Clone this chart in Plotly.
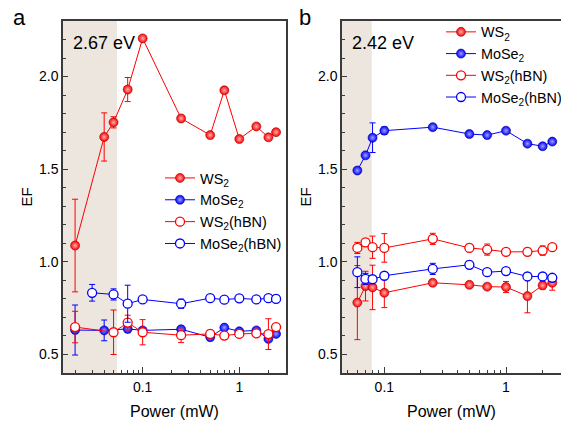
import plotly.graph_objects as go

# ---------------- data ----------------
# Panel a (2.67 eV)
x_ws2_a = [0.02, 0.04, 0.05, 0.07, 0.1, 0.25, 0.5, 0.7, 1.0, 1.5, 2.0, 2.4]
ws2_a = [1.088, 1.674, 1.753, 1.93, 2.206, 1.774, 1.684, 1.926, 1.663, 1.731, 1.672, 1.70]
ws2_a_err = [0.25, 0.13, 0.03, 0.065, 0.0, 0.0, 0.0, 0.0, 0.0, 0.0, 0.0, 0.0]

x_mose2_a = [0.02, 0.04, 0.07, 0.1, 0.25, 0.5, 0.7, 1.0, 1.5, 2.0, 2.4]
mose2_a = [0.632, 0.63, 0.638, 0.63, 0.636, 0.593, 0.645, 0.625, 0.63, 0.584, 0.611]
mose2_a_err = [0.135, 0.056, 0.02, 0.01, 0.01, 0.015, 0.01, 0.01, 0.01, 0.015, 0.01]

x_ws2h_a = [0.02, 0.05, 0.07, 0.1, 0.25, 0.5, 0.7, 1.0, 1.5, 2.0, 2.4]
ws2h_a = [0.648, 0.62, 0.672, 0.62, 0.604, 0.611, 0.602, 0.611, 0.614, 0.61, 0.648]
ws2h_a_err = [0.085, 0.12, 0.04, 0.068, 0.04, 0.02, 0.01, 0.01, 0.01, 0.083, 0.01]

x_mose2h_a = [0.03, 0.05, 0.07, 0.1, 0.25, 0.5, 0.7, 1.0, 1.5, 2.0, 2.4]
mose2h_a = [0.833, 0.824, 0.774, 0.797, 0.774, 0.804, 0.796, 0.803, 0.797, 0.804, 0.80]
mose2h_a_err = [0.045, 0.03, 0.1, 0.01, 0.025, 0.01, 0.01, 0.01, 0.01, 0.01, 0.02]

# Panel b (2.42 eV)
x_b = [0.06, 0.07, 0.08, 0.1, 0.25, 0.5, 0.7, 1.0, 1.5, 2.0, 2.4]
ws2_b = [0.78, 0.869, 0.862, 0.833, 0.887, 0.876, 0.866, 0.864, 0.815, 0.873, 0.887]
ws2_b_err = [0.2, 0.08, 0.12, 0.08, 0.015, 0.015, 0.015, 0.03, 0.09, 0.02, 0.04]
mose2_b = [1.493, 1.575, 1.67, 1.708, 1.727, 1.69, 1.684, 1.708, 1.638, 1.624, 1.649]
mose2_b_err = [0.01, 0.01, 0.08, 0.02, 0.01, 0.01, 0.01, 0.01, 0.01, 0.01, 0.01]
ws2h_b = [1.075, 1.105, 1.079, 1.075, 1.124, 1.075, 1.066, 1.054, 1.054, 1.061, 1.079]
ws2h_b_err = [0.03, 0.02, 0.06, 0.077, 0.03, 0.02, 0.03, 0.01, 0.02, 0.025, 0.01]
mose2h_b = [0.944, 0.908, 0.906, 0.925, 0.962, 0.984, 0.944, 0.95, 0.921, 0.921, 0.914]
mose2h_b_err = [0.083, 0.03, 0.01, 0.01, 0.03, 0.02, 0.01, 0.01, 0.01, 0.01, 0.01]

names = ["WS<sub>2</sub>", "MoSe<sub>2</sub>", "WS<sub>2</sub>(hBN)", "MoSe<sub>2</sub>(hBN)"]
x_ticks = [0.1, 1]
x_ticktext = ["0.1", "1"]
x_minor = [0.02, 0.03, 0.04, 0.05, 0.06, 0.07, 0.08, 0.09,
           0.2, 0.3, 0.4, 0.5, 0.6, 0.7, 0.8, 0.9, 2, 3]

RED = "#ff0000"
BLUE = "#0000ff"
FONT = "Liberation Sans, Arial, sans-serif"

fig = go.Figure()


def add(x, y, err, name, color, filled, xa, ya, legend):
    if filled:
        marker = dict(symbol="circle", size=9, color=color,
                      gradient=dict(type="radial", color="#ffb0b0" if color == RED else "#a0a0ff"),
                      line=dict(width=0.6, color="#a00000" if color == RED else "#0000a0"))
    else:
        marker = dict(symbol="circle", size=9, color="white",
                      line=dict(width=1.3, color=color))
    fig.add_trace(go.Scatter(
        x=x, y=y, name=name, mode="lines+markers",
        line=dict(color=color, width=1),
        marker=marker,
        error_y=dict(type="data", array=err, visible=True, color=color,
                     thickness=1, width=3),
        xaxis=xa, yaxis=ya, legend=legend,
    ))


add(x_ws2_a, ws2_a, ws2_a_err, names[0], RED, True, "x", "y", "legend")
add(x_mose2_a, mose2_a, mose2_a_err, names[1], BLUE, True, "x", "y", "legend")
add(x_ws2h_a, ws2h_a, ws2h_a_err, names[2], RED, False, "x", "y", "legend")
add(x_mose2h_a, mose2h_a, mose2h_a_err, names[3], BLUE, False, "x", "y", "legend")

add(x_b, ws2_b, ws2_b_err, names[0], RED, True, "x2", "y2", "legend2")
add(x_b, mose2_b, mose2_b_err, names[1], BLUE, True, "x2", "y2", "legend2")
add(x_b, ws2h_b, ws2h_b_err, names[2], RED, False, "x2", "y2", "legend2")
add(x_b, mose2h_b, mose2h_b_err, names[3], BLUE, False, "x2", "y2", "legend2")

W, H = 561, 428
ytop, ybot = 21, 373
dom_y = [(H - ybot) / H, (H - ytop) / H]

axis_common = dict(
    showline=True, linecolor="#3a3a3a", linewidth=1.5,
    ticks="inside", tickcolor="#3a3a3a", showgrid=False, zeroline=False,
    tickfont=dict(family=FONT, size=14, color="black"),
    automargin=False,
)

xcommon = dict(axis_common, type="log", tickmode="array", tickvals=x_ticks,
               ticktext=x_ticktext, ticklen=6,
               minor=dict(ticks="inside", ticklen=3, tickmode="array",
                          tickvals=x_minor, tickcolor="#3a3a3a", showgrid=False),
               title=dict(text="Power (mW)", font=dict(family=FONT, size=16, color="black"),
                          standoff=12))
ycommon = dict(axis_common, range=[0.4, 2.3], dtick=0.5, tick0=0.5, tickformat=".1f",
               ticklen=5,
               minor=dict(ticks="inside", ticklen=3, dtick=0.1, tickcolor="#3a3a3a", showgrid=False),
               title=dict(text="EF", font=dict(family=FONT, size=15, color="black"),
                          standoff=3))

fig.update_layout(
    width=W, height=H,
    margin=dict(l=0, r=0, t=0, b=0, autoexpand=False),
    paper_bgcolor="white", plot_bgcolor="white",
    font=dict(family=FONT, color="black"),
    xaxis=dict(xcommon, domain=[63 / W, 286 / W], range=[-1.824, 0.483], mirror=True, anchor="y"),
    yaxis=dict(ycommon, domain=dom_y, mirror=True, anchor="x"),
    xaxis2=dict(xcommon, domain=[342 / W, 1.0], range=[-1.348, 0.452], mirror=True, anchor="y2"),
    yaxis2=dict(ycommon, domain=dom_y, mirror=False, anchor="x2"),
    legend=dict(x=160 / W, y=(H - 162) / H, xanchor="left", yanchor="top",
                bgcolor="rgba(0,0,0,0)", font=dict(family=FONT, size=14.5, color="black"),
                tracegroupgap=0),
    legend2=dict(x=441 / W, y=(H - 16) / H, xanchor="left", yanchor="top",
                 bgcolor="rgba(0,0,0,0)", font=dict(family=FONT, size=14.4, color="black"),
                 tracegroupgap=0),
    showlegend=True,
)

# shaded excitation regions
fig.add_shape(type="rect", xref="x", yref="y domain", x0=0.0147, x1=0.0542, y0=0, y1=1,
              fillcolor="#ece6df", line=dict(width=0), layer="below")
fig.add_shape(type="rect", xref="x2", yref="y2 domain", x0=0.0448, x1=0.0788, y0=0, y1=1,
              fillcolor="#ece6df", line=dict(width=0), layer="below")

fig.add_annotation(x=71 / W, y=(H - 43) / H, xref="paper", yref="paper", text="2.67 eV",
                   showarrow=False, xanchor="left", yanchor="middle",
                   font=dict(family=FONT, size=18, color="black"))
fig.add_annotation(x=350 / W, y=(H - 43) / H, xref="paper", yref="paper", text="2.42 eV",
                   showarrow=False, xanchor="left", yanchor="middle",
                   font=dict(family=FONT, size=18, color="black"))
fig.add_annotation(x=11 / W, y=(H - 18) / H, xref="paper", yref="paper", text="a",
                   showarrow=False, xanchor="left", yanchor="middle",
                   font=dict(family=FONT, size=22, color="black"))
fig.add_annotation(x=297 / W, y=(H - 18) / H, xref="paper", yref="paper", text="b",
                   showarrow=False, xanchor="left", yanchor="middle",
                   font=dict(family=FONT, size=22, color="black"))

fig.write_html("out.html")
